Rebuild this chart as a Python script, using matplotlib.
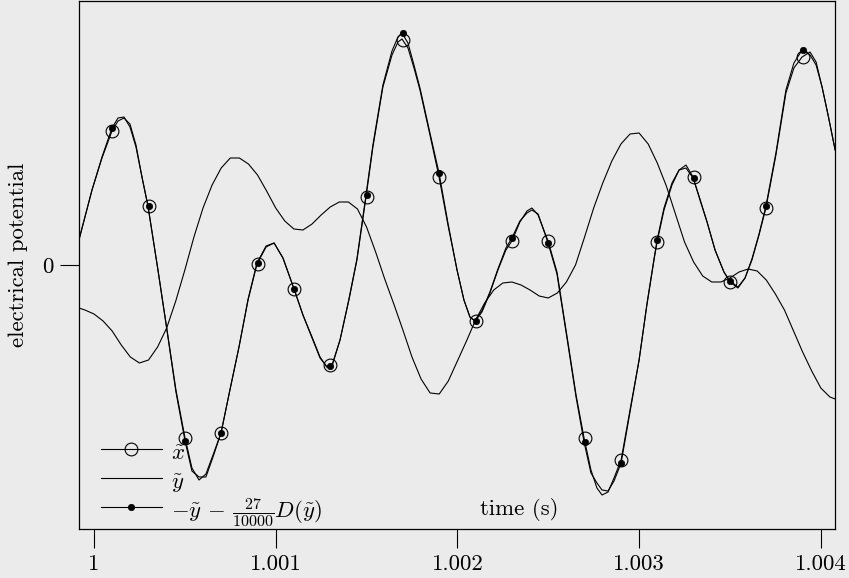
import numpy as np
import matplotlib
matplotlib.use("Agg")
import matplotlib.pyplot as plt

plt.rcParams["font.family"] = "serif"
plt.rcParams["font.serif"] = ["cmr10"]
plt.rcParams["mathtext.fontset"] = "cm"
plt.rcParams["axes.unicode_minus"] = False
plt.rcParams["axes.formatter.use_mathtext"] = True

# ---- dados (tempo em ms depois de t = 1 s)
x_ms = [-0.083, -0.011, 0.044, 0.099, 0.132, 0.165, 0.198, 0.231, 0.264, 0.297,
        0.352, 0.402, 0.451, 0.501, 0.539, 0.578, 0.616, 0.655, 0.699, 0.748,
        0.798, 0.848, 0.897, 0.947, 0.991, 1.040, 1.101, 1.150, 1.200, 1.244,
        1.282, 1.310, 1.354, 1.403, 1.447, 1.497, 1.535, 1.590, 1.640, 1.673,
        1.695, 1.728, 1.761, 1.794, 1.849, 1.899, 1.948, 1.998, 2.036, 2.069,
        2.097, 2.135, 2.179, 2.223, 2.267, 2.300, 2.344, 2.383, 2.410, 2.444,
        2.499, 2.548, 2.609, 2.653, 2.697, 2.735, 2.768, 2.796, 2.829, 2.862,
        2.901, 2.950, 3.000, 3.043, 3.082, 3.099, 3.137, 3.181, 3.220, 3.258,
        3.297, 3.335, 3.374, 3.418, 3.467, 3.500, 3.544, 3.583, 3.621, 3.660,
        3.698, 3.753, 3.808, 3.852, 3.897, 3.941, 3.974, 4.007, 4.040, 4.079]

# x~ (linha com circulos)
x_tilde = [0.25, 0.75, 1.07, 1.34, 1.44, 1.47, 1.41, 1.20, 0.88, 0.59,
           -0.05, -0.65, -1.25, -1.73, -2.03, -2.15, -2.09, -1.90, -1.68, -1.25,
           -0.82, -0.35, 0.01, 0.18, 0.22, 0.07, -0.24, -0.50, -0.72, -0.92,
           -1.02, -1.00, -0.75, -0.35, 0.05, 0.68, 1.18, 1.78, 2.10, 2.23,
           2.26, 2.17, 1.97, 1.75, 1.30, 0.88, 0.40, -0.05, -0.35, -0.52,
           -0.56, -0.47, -0.28, -0.05, 0.15, 0.24, 0.43, 0.54, 0.57, 0.50,
           0.24, -0.07, -0.78, -1.30, -1.73, -2.05, -2.23, -2.30, -2.27, -2.13,
           -1.95, -1.45, -0.95, -0.40, 0.05, 0.23, 0.55, 0.80, 0.95, 1.00,
           0.88, 0.65, 0.43, 0.15, -0.07, -0.17, -0.23, -0.13, 0.05, 0.30,
           0.57, 1.10, 1.72, 1.97, 2.08, 2.13, 2.03, 1.78, 1.50, 1.15]

# -y~ - 27/10000 D(y~) (linha com pontos)
y_corr = [0.25, 0.75, 1.08, 1.37, 1.47, 1.48, 1.38, 1.18, 0.88, 0.59,
          -0.05, -0.66, -1.27, -1.76, -2.06, -2.12, -2.12, -1.92, -1.68, -1.25,
          -0.82, -0.34, 0.02, 0.19, 0.22, 0.07, -0.24, -0.50, -0.73, -0.93,
          -1.02, -1.01, -0.75, -0.34, 0.06, 0.70, 1.20, 1.80, 2.14, 2.28,
          2.32, 2.22, 2.00, 1.77, 1.32, 0.92, 0.42, -0.05, -0.35, -0.52,
          -0.56, -0.46, -0.27, -0.04, 0.17, 0.27, 0.44, 0.52, 0.55, 0.51,
          0.22, -0.09, -0.80, -1.32, -1.77, -2.08, -2.18, -2.25, -2.26, -2.16,
          -1.98, -1.47, -0.95, -0.39, 0.06, 0.25, 0.57, 0.82, 0.95, 0.97,
          0.87, 0.66, 0.43, 0.15, -0.07, -0.16, -0.22, -0.13, 0.06, 0.31,
          0.59, 1.12, 1.75, 2.02, 2.15, 2.10, 2.00, 1.78, 1.50, 1.15]

# y~ (linha simples)
y_ms = [-0.083, -0.05, 0.0, 0.05, 0.1, 0.15, 0.2, 0.25, 0.3, 0.35,
        0.4, 0.45, 0.5, 0.55, 0.6, 0.65, 0.7, 0.75, 0.8, 0.85,
        0.9, 0.95, 1.0, 1.05, 1.1, 1.15, 1.2, 1.25, 1.3, 1.35,
        1.4, 1.45, 1.5, 1.55, 1.6, 1.65, 1.7, 1.75, 1.8, 1.85,
        1.9, 1.95, 2.0, 2.05, 2.1, 2.15, 2.2, 2.25, 2.3, 2.35,
        2.4, 2.45, 2.5, 2.55, 2.6, 2.65, 2.7, 2.75, 2.8, 2.85,
        2.9, 2.95, 3.0, 3.05, 3.1, 3.15, 3.2, 3.25, 3.3, 3.35,
        3.4, 3.45, 3.5, 3.55, 3.6, 3.65, 3.7, 3.75, 3.8, 3.85,
        3.9, 3.95, 4.0, 4.05, 4.079]
y_tilde = [-0.43, -0.45, -0.49, -0.56, -0.66, -0.80, -0.92, -0.98, -0.95, -0.82,
           -0.63, -0.36, -0.05, 0.28, 0.57, 0.80, 0.97, 1.07, 1.07, 1.01,
           0.90, 0.74, 0.57, 0.44, 0.36, 0.35, 0.41, 0.50, 0.58, 0.63,
           0.63, 0.56, 0.38, 0.13, -0.14, -0.39, -0.65, -0.92, -1.14, -1.28,
           -1.29, -1.16, -0.96, -0.76, -0.55, -0.38, -0.25, -0.18, -0.17, -0.20,
           -0.25, -0.31, -0.33, -0.28, -0.17, 0.00, 0.28, 0.57, 0.82, 1.04,
           1.21, 1.31, 1.32, 1.21, 1.02, 0.79, 0.51, 0.23, 0.03, -0.11,
           -0.17, -0.17, -0.13, -0.07, -0.04, -0.06, -0.15, -0.29, -0.45, -0.66,
           -0.87, -1.06, -1.23, -1.32, -1.34]

# amostras (circulos e pontos)
sample_ms = [0.1, 0.3, 0.5, 0.7, 0.9, 1.1, 1.3, 1.5, 1.7, 1.9,
             2.1, 2.3, 2.5, 2.7, 2.9, 3.1, 3.3, 3.5, 3.7, 3.9]
x_samples = [1.34, 0.59, -1.73, -1.68, 0.01, -0.24, -1.00, 0.68, 2.25, 0.88,
             -0.56, 0.24, 0.24, -1.73, -1.95, 0.23, 0.88, -0.17, 0.57, 2.08]
corr_samples = [1.37, 0.59, -1.76, -1.68, 0.02, -0.24, -1.01, 0.70, 2.32, 0.92,
                -0.56, 0.27, 0.22, -1.77, -1.98, 0.25, 0.87, -0.16, 0.59, 2.15]

xticks = [1.0, 1.001, 1.002, 1.003, 1.004]
xtick_labels = ["1", "1.001", "1.002", "1.003", "1.004"]

t_x = 1 + np.array(x_ms) / 1000
t_y = 1 + np.array(y_ms) / 1000
t_s = 1 + np.array(sample_ms) / 1000

bg = "#ebebeb"
fs = 16.4
fig = plt.figure(figsize=(8.49, 5.78), dpi=100, facecolor=bg)
ax = fig.add_axes([79 / 849, 1 - 529 / 578, 756 / 849, 528 / 578])
ax.set_facecolor(bg)

lw = 0.8
l_x, = ax.plot(t_x, x_tilde, color="black", lw=lw)
m_x, = ax.plot(t_s, x_samples, ls="none", marker="o", ms=9.2,
               mfc="none", mec="black", mew=0.8)
l_y, = ax.plot(t_y, y_tilde, color="black", lw=lw)
l_c, = ax.plot(t_x, y_corr, color="black", lw=lw)
m_c, = ax.plot(t_s, corr_samples, ls="none", marker="o", ms=4.6,
               mfc="black", mec="black", mew=0.5)

ax.set_xlim(1 + (79 - 94) / 181.7 / 1000, 1 + (835 - 94) / 181.7 / 1000)
ax.set_ylim(-2.64, 2.64)
ax.set_xticks(xticks, xtick_labels)
ax.set_yticks([0], ["0"])
ax.tick_params(direction="out", length=13.5, width=0.8, pad=5, labelsize=fs)

for s in ax.spines.values():
    s.set_linewidth(0.9)

ax.set_ylabel("electrical potential", fontsize=fs)
ax.yaxis.set_label_coords(-0.067, 0.52)
ax.text(0.582, 0.0265, "time (s)", transform=ax.transAxes, ha="center",
        va="baseline", fontsize=fs)

ax.legend([(l_x, m_x), l_y, (l_c, m_c)],
          [r"$\tilde{x}$", r"$\tilde{y}$", r"$-\tilde{y}\,-\,\frac{27}{10000}D(\tilde{y})$"],
          loc="lower left", frameon=False, fontsize=fs, handlelength=2.68,
          handleheight=1.6, numpoints=1, labelspacing=0.0, borderaxespad=0.0,
          handletextpad=0.4, bbox_to_anchor=(0.017, -0.019))

fig.savefig("out.png", dpi=100, facecolor=bg)
